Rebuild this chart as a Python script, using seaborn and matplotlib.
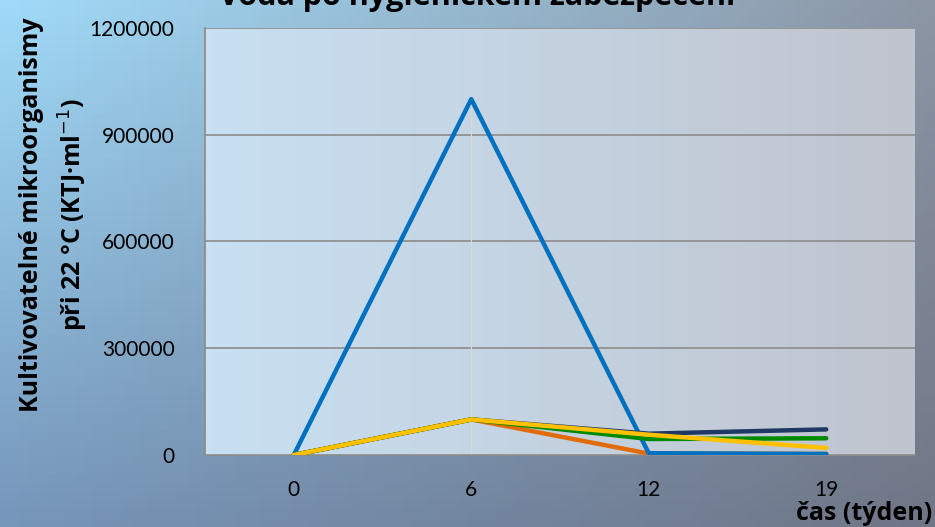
import numpy as np
import pandas as pd
import matplotlib
matplotlib.use("Agg")
import matplotlib.pyplot as plt
import seaborn as sns

# data
weeks = ["0", "6", "12", "19"]
s_blue = [0, 1000000, 5000, 3000]
s_navy = [0, 100000, 60000, 72000]
s_orange = [0, 100000, 4000, 3000]
s_green = [0, 100000, 45000, 47000]
s_yellow = [0, 100000, 57000, 20000]

series = {"A": s_orange, "B": s_blue, "C": s_navy, "D": s_green, "E": s_yellow}
colors = {"A": "#E36C0A", "B": "#0070C0", "C": "#1F3864", "D": "#008A00", "E": "#FFC000"}

rows = []
for name, vals in series.items():
    for i, v in enumerate(vals):
        rows.append({"pos": i, "value": v, "serie": name})
df = pd.DataFrame(rows)

sns.set_theme(style="white")
plt.rcParams['font.family'] = ['Lato', 'DejaVu Sans']
plt.rcParams['text.color'] = 'black'
bold_fam = ['Open Sans', 'DejaVu Sans']

fig = plt.figure(figsize=(9.35, 5.27), dpi=100)

# background gradient of the slide
bg = fig.add_axes([0, 0, 1, 1], zorder=-10)
h, w = 60, 100
yy, xx = np.mgrid[0:1:h*1j, 0:1:w*1j]
tl = np.array([160, 218, 248]); tr = np.array([140, 150, 165])
bl = np.array([118, 150, 186]); br = np.array([112, 118, 134])
img = (tl[None, None] * ((1-xx)*(1-yy))[..., None] + tr[None, None] * (xx*(1-yy))[..., None]
       + bl[None, None] * ((1-xx)*yy)[..., None] + br[None, None] * (xx*yy)[..., None]) / 255
bg.imshow(img, aspect="auto", extent=[0, 1, 0, 1], origin="upper")
bg.set_axis_off()

ax = fig.add_axes([0.2193, 0.1366, 0.7593, 0.8103])
ax.set_xlim(-0.5, 3.5)
ax.set_ylim(0, 1200000)

# plot area gradient
pa = np.linspace(0, 1, 100)[None, :, None]
left = np.array([200, 224, 242]) / 255
right = np.array([192, 196, 206]) / 255
ax.imshow(left * (1 - pa) + right * pa, aspect="auto", extent=[-0.5, 3.5, 0, 1200000],
          origin="upper", zorder=0)

for yv in [300000, 600000, 900000, 1200000]:
    ax.axhline(yv, color="#8c8c8c", lw=1.2, zorder=1)
ax.axvline(1, ymin=0, ymax=0.83, color="#d8d8d8", lw=0.8, zorder=1)

sns.lineplot(data=df, x="pos", y="value", hue="serie", palette=colors, lw=3.2,
             legend=False, ax=ax, zorder=3, solid_capstyle="round")

for s in ["top", "right"]:
    ax.spines[s].set_visible(False)
ax.spines["left"].set_color("#8c8c8c")
ax.spines["bottom"].set_color("#8c8c8c")
ax.spines["bottom"].set_linewidth(1.2)

ax.set_xticks(range(len(weeks)))
ax.set_xticklabels(weeks, fontsize=15)
ax.set_yticks([0, 300000, 600000, 900000, 1200000])
ax.set_yticklabels(["0", "300000", "600000", "900000", "1200000"], fontsize=15)
ax.tick_params(axis="x", pad=18, length=0, colors="black")
ax.tick_params(axis="y", pad=22, length=0, colors="black")
ax.set_xlabel("")
ax.set_ylabel("")

fig.text(0.51, 1 - 5/527, "Voda po hygienickém zabezpečení", ha="center", va="baseline",
         fontsize=22, fontweight="bold", family=bold_fam)
fig.text(0.034, 0.592, "Kultivovatelné mikroorganismy", rotation=90, ha="center", va="center",
         fontsize=18, fontweight="bold", family=bold_fam)
fig.text(0.079, 0.592, "při 22 °C (KTJ·ml$^{-1}$)", rotation=90, ha="center", va="center",
         fontsize=18, fontweight="bold", family=bold_fam)
fig.text(0.997, 1 - 513/527, "čas (týden)", ha="right", va="center", fontsize=18,
         fontweight="bold", family=bold_fam)

fig.savefig("out.png", dpi=100)
